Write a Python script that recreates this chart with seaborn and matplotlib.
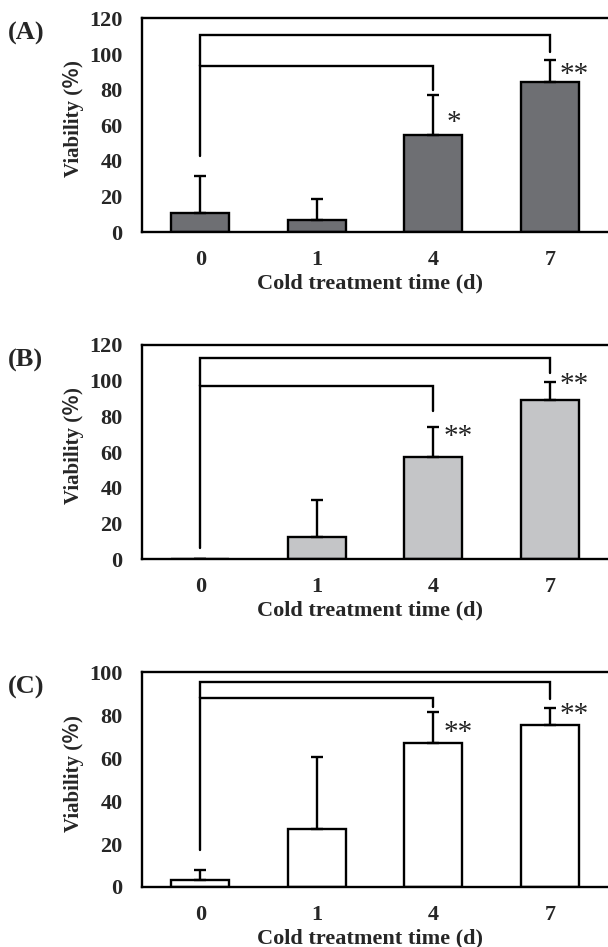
import matplotlib
matplotlib.use("Agg")
import matplotlib.pyplot as plt
import seaborn as sns
import pandas as pd

sns.set_theme(style="white")
plt.rcParams["font.family"] = ["Liberation Serif", "Noto Sans CJK JP"]
plt.rcParams["font.weight"] = "bold"

dias = ["0", "1", "4", "7"]

media_a = [10.5, 6.5, 54.3, 84.2]
dp_a = [20.8, 12.2, 22.8, 12.6]
media_b = [0.0, 12.5, 57.3, 89.3]
dp_b = [0.0, 20.8, 16.9, 9.9]
media_c = [3.4, 26.9, 67.0, 75.3]
dp_c = [4.5, 33.6, 14.8, 8.2]

# colchetes: base da haste do 0, altura 0-4, fim 0-4, altura 0-7, fim 0-7
colchete_a = [42.6, 93.2, 79.7, 110.5, 101.3]
colchete_b = [6.2, 97.0, 83.0, 112.9, 104.5]
colchete_c = [17.0, 88.3, 83.8, 95.5, 87.7]

estrelas_a = ["", "", "*", "**"]
estrelas_b = ["", "", "**", "**"]
estrelas_c = ["", "", "**", "**"]
pos_estrela_a = [0, 0, 61.0, 88.5]
pos_estrela_b = [0, 0, 68.5, 97.5]
pos_estrela_c = [0, 0, 72.0, 80.0]

paineis = [
    ("(A)", media_a, dp_a, colchete_a, estrelas_a, pos_estrela_a, "#6e6f73", 120, [0.2336, 0.755, 0.7664, 0.2255]),
    ("(B)", media_b, dp_b, colchete_b, estrelas_b, pos_estrela_b, "#c4c5c7", 120, [0.2336, 0.4097, 0.7664, 0.2260]),
    ("(C)", media_c, dp_c, colchete_c, estrelas_c, pos_estrela_c, "#ffffff", 100, [0.2336, 0.0634, 0.7664, 0.2265]),
]

fig = plt.figure(figsize=(6.08, 9.47), dpi=100)

for rotulo, media, dp, colchete, estrelas, pos_est, cor, ymax, caixa in paineis:
    ax = fig.add_axes(caixa)
    df = pd.DataFrame({"dia": dias, "viab": media})
    sns.barplot(data=df, x="dia", y="viab", order=dias, color=cor, edgecolor="black",
                linewidth=1.7, width=0.5, saturation=1, errorbar=None, ax=ax)
    ax.errorbar(range(len(dias)), media, yerr=[[0] * len(dp), dp], fmt="none", ecolor="black",
                elinewidth=1.7, capsize=4.5, capthick=1.7, zorder=5)

    base, h1, fim1, h2, fim2 = colchete
    ax.plot([0, 0, 2, 2], [base, h1, h1, fim1], color="black", lw=1.7, solid_joinstyle="miter", clip_on=False)
    ax.plot([0, 0, 3, 3], [h1, h2, h2, fim2], color="black", lw=1.7, solid_joinstyle="miter", clip_on=False)

    for i, (txt, y) in enumerate(zip(estrelas, pos_est)):
        if txt:
            deslocamento = 0.18 if len(txt) == 1 else 0.21
            ax.text(i + deslocamento, y, txt, ha="center", va="center", fontsize=21,
                    fontweight="normal", color="#222222")

    ax.set_xlim(-0.5, 3.5)
    ax.set_ylim(0, ymax)
    ax.set_yticks(range(0, ymax + 1, 20))
    ax.tick_params(axis="y", direction="in", length=5, width=1.7, pad=14, labelsize=16)
    ax.tick_params(axis="x", length=0, pad=13, labelsize=16)
    for lado in ["left", "bottom", "top"]:
        ax.spines[lado].set_color("black")
        ax.spines[lado].set_linewidth(1.7)
    ax.spines["right"].set_visible(False)

    ax.set_xlabel("Cold treatment time (d)", fontsize=16, fontweight="bold")
    ax.xaxis.set_label_coords(0.49, -0.195)
    ax.set_ylabel("Viability (％)", fontsize=15, fontweight="bold")
    ax.yaxis.set_label_coords(-0.125, 0.53)

    topo = caixa[1] + caixa[3]
    fig.text(0.013, topo - 0.016, rotulo, fontsize=19, fontweight="bold", ha="left", va="center")

fig.savefig("out.png", dpi=100)
